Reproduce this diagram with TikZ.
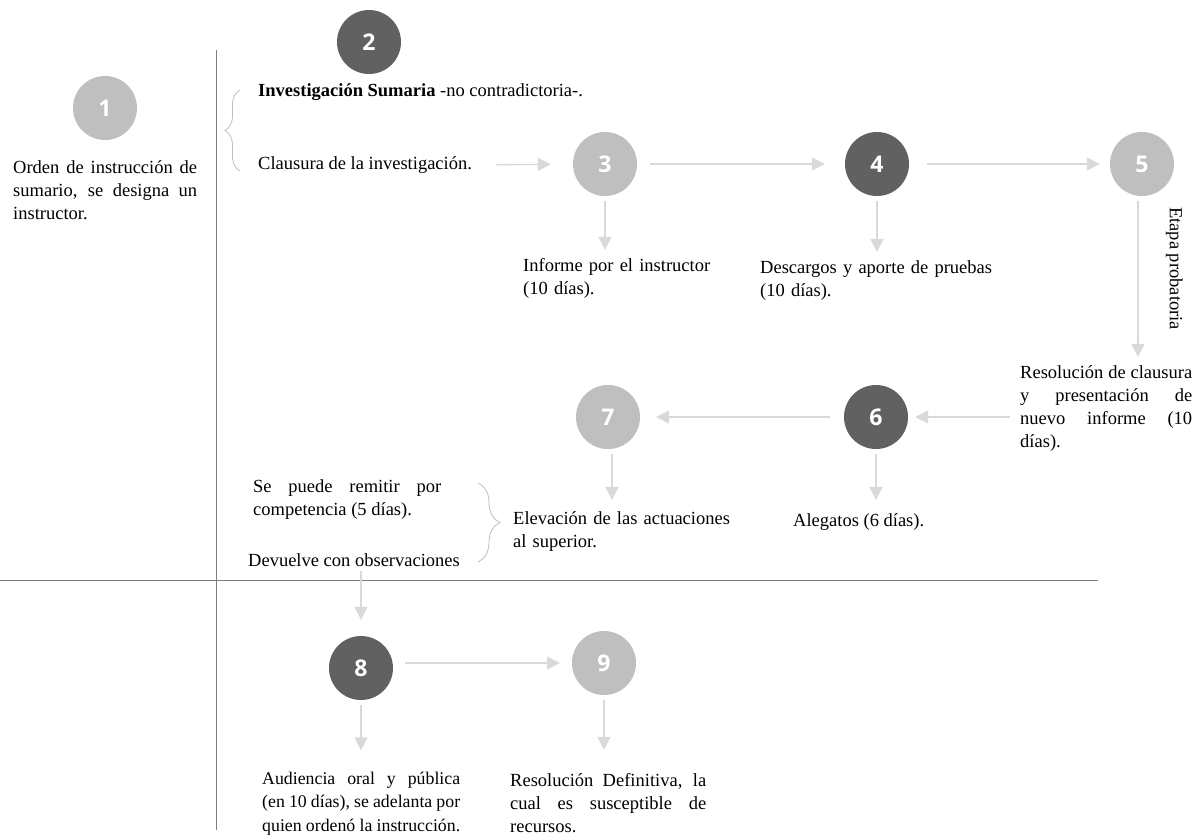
\documentclass[tikz,border=0pt]{standalone}
\usepackage{fontspec}
\setmainfont{Liberation Serif}
\setsansfont{Open Sans}
\usetikzlibrary{arrows.meta,decorations.pathreplacing}

\definecolor{grisclaro}{HTML}{BFBFBF}
\definecolor{grisoscuro}{HTML}{616161}
\definecolor{grisflecha}{HTML}{D9D9D9}
\definecolor{grislinea}{HTML}{7F7F7F}

\begin{document}
\begin{tikzpicture}[x=1pt,y=-1pt,
    paso/.style={circle,minimum size=64pt,inner sep=0pt,text=white,
        font=\sffamily\bfseries\fontsize{23}{23}\selectfont},
    claro/.style={paso,fill=grisclaro},
    oscuro/.style={paso,fill=grisoscuro},
    texto/.style={anchor=base west,inner sep=0pt,font=\fontsize{18.5}{23}\selectfont},
    bloque/.style={texto,align=justify,text width=#1},
    lineas/.style={texto,align=left,text width=#1},
    flecha/.style={grisflecha,line width=1.3pt,-{Triangle[width=13pt,length=13pt]}},
    llave/.style={grisclaro,line width=0.8pt,decorate,decoration={brace,amplitude=#1}}]
    \useasboundingbox (0,0) rectangle (1196,839);

    % separators
    \draw[grislinea,line width=1pt] (216,50) -- (216,830);
    \draw[grislinea,line width=1pt] (0,580) -- (1098,580);

    % steps
    \node[claro] (c1) at (105,108) {1};
    \node[oscuro] (c2) at (369,42) {2};
    \node[claro] (c3) at (605,164) {3};
    \node[oscuro] (c4) at (877,164) {4};
    \node[claro] (c5) at (1142,164) {5};
    \node[oscuro] (c6) at (876,417) {6};
    \node[claro] (c7) at (608,417) {7};
    \node[oscuro] (c8) at (361,668) {8};
    \node[claro] (c9) at (604,663) {9};

    % texts
    \node[bloque=184pt] (t1) at (13,173)
        {Orden de instrucción de\linebreak sumario, se designa un\linebreak instructor.};
    \node[texto] (t2a) at (258,96) {\textbf{Investigación Sumaria} -no contradictoria-.};
    \node[texto,anchor=west] (t2b) at (258,165) {Clausura de la investigación.};
    \node[lineas=240pt] (t3) at (523,271) {Informe por el instructor\\(10 días).};
    \node[lineas=260pt] (t4) at (760,273) {Descargos y aporte de pruebas\\(10 días).};
    \node[texto,rotate=-90,anchor=north west] (t5r) at (1183,207) {Etapa probatoria};
    \node[bloque=172pt] (t5) at (1020,378)
        {Resolución de clausura\linebreak y presentación de\linebreak nuevo informe (10\linebreak días).};
    \node[texto] (t6) at (793,526) {Alegatos (6 días).};
    \node[lineas=240pt] (t7) at (513,524) {Elevación de las actuaciones\\al superior.};
    \node[bloque=188pt] (t7a) at (253,492) {Se puede remitir por\linebreak competencia (5 días).};
    \node[texto] (t7b) at (248,566) {Devuelve con observaciones};
    \node[bloque=198pt,font=\fontsize{17.8}{23.5}\selectfont] (t8) at (262,784)
        {Audiencia oral y pública\linebreak (en 10 días), se adelanta por\linebreak quien ordenó la instrucción.};
    \node[bloque=196pt] (t9) at (510,786)
        {Resolución Definitiva, la\linebreak cual es susceptible de\linebreak recursos.};

    % braces
    \draw[llave=15pt] (240,171) -- (240,90);
    \draw[llave=22pt] (478,483) -- (478,562);

    % arrows
    \draw[flecha,shorten <=24pt,shorten >=22pt] (t2b.east) -- (c3.west);
    \draw[flecha,shorten <=13pt,shorten >=20pt] (c3) -- (c4);
    \draw[flecha,shorten <=18pt,shorten >=10pt] (c4) -- (c5);
    \draw[flecha,shorten <=5pt,shorten >=8pt] (c3.south) -- (c3.south |- t3.north);
    \draw[flecha,shorten <=5pt,shorten >=8pt] (c4.south) -- (c4.south |- t4.north);
    \draw[flecha,shorten <=5pt,shorten >=8pt] ([xshift=-4pt]c5.south) -- ([xshift=-4pt]c5.south |- t5.north);
    \draw[flecha,shorten <=10pt,shorten >=7pt] (c6 -| t5.west) -- (c6.east);
    \draw[flecha,shorten <=14pt,shorten >=16pt] (c6) -- (c7);
    \draw[flecha,shorten <=5pt,shorten >=13pt] (c6.south) -- (c6.south |- t6.north);
    \draw[flecha,shorten <=5pt,shorten >=11pt] ([xshift=4pt]c7.south) -- ([xshift=4pt]c7.south |- t7.north);
    \draw[flecha,shorten <=5pt,shorten >=16pt] (t7b.south -| c8) -- (c8.north);
    \draw[flecha,shorten <=12pt,shorten >=12pt] (c8.east |- c9) -- (c9.west);
    \draw[flecha,shorten <=5pt,shorten >=21pt] (c8.south) -- (c8.south |- t8.north);
    \draw[flecha,shorten <=5pt,shorten >=23pt] (c9.south) -- (c9.south |- t9.north);
\end{tikzpicture}
\end{document}
